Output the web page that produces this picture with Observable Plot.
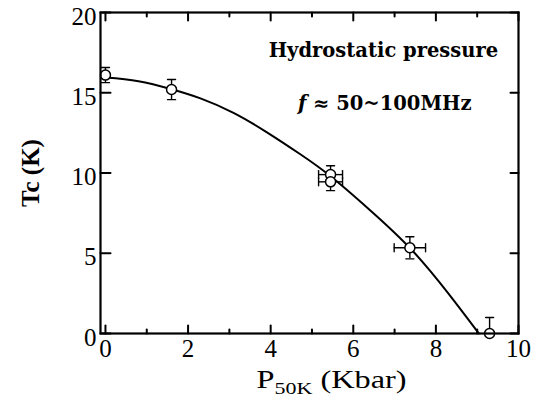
<!DOCTYPE html>
<html><head><meta charset="utf-8">
<script src="https://cdn.jsdelivr.net/npm/d3@7"></script>
<script src="https://cdn.jsdelivr.net/npm/@observablehq/plot@0.6"></script>
<style>body{margin:0;background:#fff;} svg{display:block}</style>
</head><body><div id="chart"></div>
<script>
// measured points
const pressure  = [0, 1.6, 5.45, 5.45, 7.37, 9.3];
const tc        = [16.1, 15.2, 9.9, 9.45, 5.34, 0];
const tcErrLow  = [0.47, 0.63, 0.55, 0.55, 0.69, 0];
const tcErrHigh = [0.47, 0.63, 0.55, 0.55, 0.69, 1.0];
const pErr      = [0, 0, 0.29, 0.29, 0.38, 0];
// fitted curve
const fitP  = [0, 0.8, 1.6, 2.3, 3.1, 3.9, 4.7, 5.45, 6.4, 7.4, 8.3, 9.04];
const fitTc = [15.95, 15.72, 15.22, 14.65, 13.75, 12.55, 11.2, 9.8, 7.7, 5.25, 2.5, 0];
// ticks
const xMajorTicks = [0, 2, 4, 6, 8, 10];
const xMinorTicks = [1, 3, 5, 7, 9];
const yTicks = [0, 5, 10, 15, 20];
const xTickLabels = ["0", "2", "4", "6", "8", "10"];
const yTickLabels = ["0", "5", "10", "15", "20"];
// texts
const yLabel = "Tc (K)";
const xLabelMain = "P", xLabelSub = "50K", xLabelUnit = " (Kbar)";
const note1 = "Hydrostatic pressure";
const note2Var = "f", note2Rest = " ≈ 50~100MHz";

const pts = pressure.map((p, i) => ({p, tc: tc[i], lo: tc[i] - tcErrLow[i], hi: tc[i] + tcErrHigh[i], pl: p - pErr[i], ph: p + pErr[i], el: tcErrLow[i], eh: tcErrHigh[i], ep: pErr[i]}));
const fit = fitP.map((p, i) => ({p, tc: fitTc[i]}));
const xTickData = xMajorTicks.map((v, i) => ({v, label: xTickLabels[i]}));
const yTickData = yTicks.map((v, i) => ({v, label: yTickLabels[i]}));

const seg = {draw(ctx, l) { ctx.moveTo(0, 0); ctx.lineTo(0, -l); }};
const serif = "'Liberation Serif', 'Times New Roman', serif";
const noteFont = "'DejaVu Serif', serif";

const plot = Plot.plot({
  width: 540, height: 413,
  marginLeft: 100, marginRight: 22, marginTop: 12, marginBottom: 80,
  x: {domain: [-0.12, 10], axis: null},
  y: {domain: [0, 20], axis: null},
  marks: [
    // ticks inward
    Plot.vector(xMajorTicks, {x: d => d, y: 0, length: 8, rotate: 0, anchor: "start", shape: seg, stroke: "black", strokeWidth: 2}),
    Plot.vector(xMinorTicks, {x: d => d, y: 0, length: 4, rotate: 0, anchor: "start", shape: seg, stroke: "black", strokeWidth: 2}),
    Plot.vector(xMajorTicks, {x: d => d, y: 20, length: 8, rotate: 180, anchor: "start", shape: seg, stroke: "black", strokeWidth: 2}),
    Plot.vector(xMinorTicks, {x: d => d, y: 20, length: 4, rotate: 180, anchor: "start", shape: seg, stroke: "black", strokeWidth: 2}),
    Plot.vector(yTicks, {frameAnchor: "left", y: d => d, length: 10, rotate: 90, anchor: "start", shape: seg, stroke: "black", strokeWidth: 2}),
    Plot.vector(yTicks, {frameAnchor: "right", y: d => d, length: 8, rotate: -90, anchor: "start", shape: seg, stroke: "black", strokeWidth: 2}),
    // tick labels
    Plot.text(xTickData, {x: "v", frameAnchor: "bottom", text: "label", lineAnchor: "top", dy: 6, fontSize: 25, fill: "black", className: "serif-text"}),
    Plot.text(yTickData, {y: "v", frameAnchor: "left", text: "label", textAnchor: "end", lineAnchor: "middle", dx: -4, dy: 4, fontSize: 25, fill: "black", className: "serif-text"}),
    // fitted curve
    Plot.line(fit, {x: "p", y: "tc", curve: "natural", stroke: "black", strokeWidth: 2}),
    // error bars
    Plot.ruleX(pts.filter(d => d.el + d.eh > 0), {x: "p", y1: "lo", y2: "hi", stroke: "black", strokeWidth: 1.4}),
    Plot.vector(pts.filter(d => d.eh > 0), {x: "p", y: "hi", length: 8, rotate: 90, anchor: "middle", shape: seg, stroke: "black", strokeWidth: 1.4}),
    Plot.vector(pts.filter(d => d.el > 0), {x: "p", y: "lo", length: 8, rotate: 90, anchor: "middle", shape: seg, stroke: "black", strokeWidth: 1.4}),
    Plot.ruleY(pts.filter(d => d.ep > 0), {y: "tc", x1: "pl", x2: "ph", stroke: "black", strokeWidth: 1.4}),
    Plot.vector(pts.filter(d => d.ep > 0), {x: "pl", y: "tc", length: 8, rotate: 0, anchor: "middle", shape: seg, stroke: "black", strokeWidth: 1.4}),
    Plot.vector(pts.filter(d => d.ep > 0), {x: "ph", y: "tc", length: 8, rotate: 0, anchor: "middle", shape: seg, stroke: "black", strokeWidth: 1.4}),
    Plot.dot(pts, {x: "p", y: "tc", r: 5, fill: "white", stroke: "black", strokeWidth: 1.5}),
    Plot.frame({stroke: "black", strokeWidth: 2.2}),
    // annotations
    Plot.text([note1], {x: 6.73, y: 17.6, text: d => d, textAnchor: "middle", lineAnchor: "middle", fontSize: 19.5, fontWeight: "bold", fill: "black", className: "note-text"}),
    Plot.text([note2Var + note2Rest], {x: 6.76, y: 14.3, text: d => d, textAnchor: "middle", lineAnchor: "middle", fontSize: 19.5, fontWeight: "bold", fill: "black", className: "note-text"}),
    // axis labels
    Plot.text([yLabel], {frameAnchor: "left", text: d => d, rotate: -90, dx: -70, textAnchor: "middle", lineAnchor: "middle", fontSize: 25, fontWeight: "bold", fill: "black", className: "serif-text"}),
    Plot.text([xLabelMain + xLabelSub + xLabelUnit], {frameAnchor: "bottom", text: d => d, dx: 22, dy: 54, textAnchor: "middle", lineAnchor: "bottom", fontSize: 25, fill: "black", className: "serif-text"})
  ]
});

const svg = d3.select(plot);
svg.selectAll(".serif-text text").style("font-family", serif);
svg.selectAll(".note-text text").style("font-family", noteFont);
svg.selectAll("text").each(function() {
  const t = d3.select(this);
  const s = this.textContent;
  if (s === xLabelMain + xLabelSub + xLabelUnit) {
    t.text(null);
    t.attr("textLength", 150).attr("lengthAdjust", "spacingAndGlyphs");
    t.append("tspan").text(xLabelMain);
    t.append("tspan").attr("dy", 6).attr("font-size", 17).text(xLabelSub);
    t.append("tspan").attr("dy", -6).text(xLabelUnit);
  } else if (s === note2Var + note2Rest) {
    t.text(null);
    t.append("tspan").attr("font-style", "italic").text(note2Var);
    t.append("tspan").text(note2Rest);
  }
});
document.getElementById("chart").appendChild(plot);
</script>
</body></html>
